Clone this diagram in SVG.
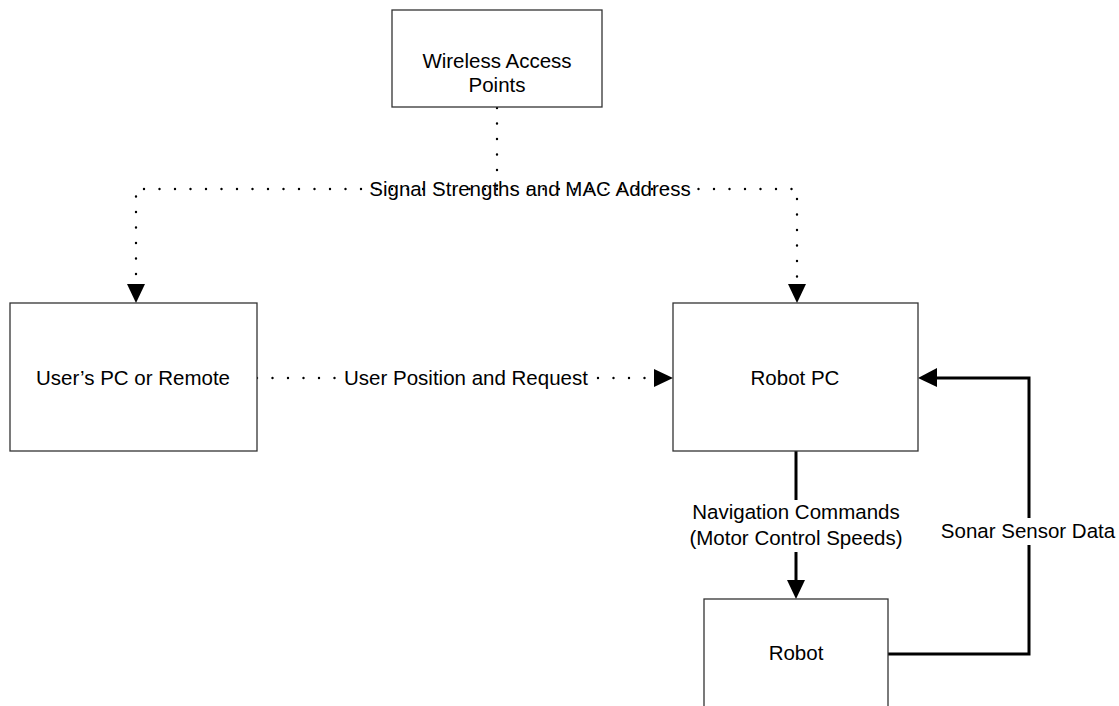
<svg xmlns="http://www.w3.org/2000/svg" width="1119" height="706" viewBox="0 0 1119 706">
<style>
.box{fill:#fff;stroke:#333;stroke-width:1.3}
.t{font-family:"Liberation Sans",Arial,sans-serif;font-size:20.5px;fill:#000;text-anchor:middle}
.dot{fill:none;stroke:#000;stroke-width:2.4;stroke-linecap:round;stroke-dasharray:0 15.5}
.solid{fill:none;stroke:#000;stroke-width:3}
.bg{fill:#fff}
</style>
<defs>
<marker id="ah" markerUnits="userSpaceOnUse" markerWidth="20" markerHeight="20" viewBox="0 0 19 18" refX="19" refY="9" orient="auto">
<path d="M0,0 L19,9 L0,18 Z" fill="#000"/>
</marker>
</defs>
<rect width="1119" height="706" fill="#fff"/>
<g id="connectors">
<path class="dot" d="M497,108 V189 H136 V300" />
<path class="dot" d="M497,189 H797 V300" />
<polygon points="127,284 145,284 136,303" fill="#000"/>
<polygon points="788,284 806,284 797,303" fill="#000"/>
<path class="dot" d="M257,378 H654" />
<rect class="bg" x="341" y="362" width="250" height="28"/>
<polygon points="654,369 673,378 654,387" fill="#000"/>
<path class="solid" d="M796,451 V581" />
<polygon points="787,580 805,580 796,599" fill="#000"/>
<path class="solid" d="M888,654 H1029 V378 H936" />
<polygon points="937,368 918,378 937,387" fill="#000"/>
<rect class="bg" x="688" y="500" width="216" height="52"/>
<rect class="bg" x="938" y="518" width="180" height="27"/>
<text class="t" x="530" y="196">Signal Strengths and MAC Address</text>
<text class="t" x="466" y="385">User Position and Request</text>
<text class="t" x="796" y="519">Navigation Commands</text>
<text class="t" x="796" y="545">(Motor Control Speeds)</text>
<text class="t" x="1028" y="538">Sonar Sensor Data</text>
</g>
<g id="wap">
<rect class="box" x="392" y="10" width="210" height="97"/>
<text class="t" x="497" y="68">Wireless Access</text>
<text class="t" x="497" y="92">Points</text>
</g>
<g id="user">
<rect class="box" x="10" y="303" width="247" height="148"/>
<text class="t" x="133" y="385">User’s PC or Remote</text>
</g>
<g id="robotpc">
<rect class="box" x="673" y="303" width="245" height="148"/>
<text class="t" x="795" y="385">Robot PC</text>
</g>
<g id="robot">
<rect class="box" x="704" y="599" width="184" height="130"/>
<text class="t" x="796" y="660">Robot</text>
</g>
</svg>
